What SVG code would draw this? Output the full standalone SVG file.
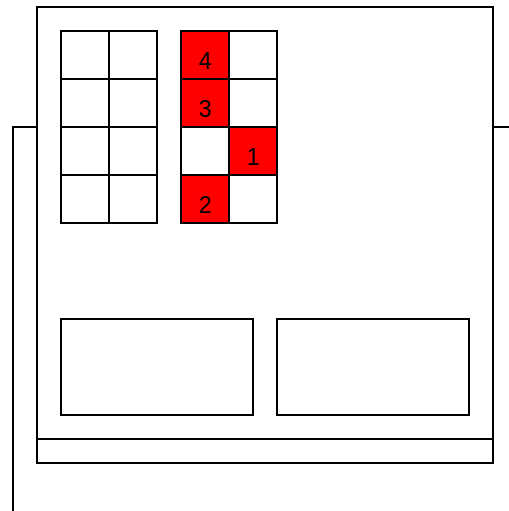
<svg xmlns="http://www.w3.org/2000/svg" width="509" height="511" viewBox="0 0 509 511">
<style>
.s{fill:none;stroke:#000;stroke-width:2}
.w{fill:#fff;stroke:#000;stroke-width:2}
.r{fill:#ff0000;stroke:#000;stroke-width:2}
.t{font-family:"Liberation Sans",Arial,sans-serif;font-size:23px;text-anchor:middle;fill:#000}
</style>
<rect width="509" height="511" fill="#fff"/>
<g id="connectors">
<path class="s" d="M37,127 H13 V511"/>
<path class="s" d="M493,127 H509"/>
</g>
<g id="frame">
<rect class="s" x="37" y="7" width="456" height="456"/>
<line class="s" x1="37" y1="439" x2="493" y2="439"/>
</g>
<g id="grid-left">
<rect class="w" x="61" y="31" width="48" height="48"/>
<rect class="w" x="109" y="31" width="48" height="48"/>
<rect class="w" x="61" y="79" width="48" height="48"/>
<rect class="w" x="109" y="79" width="48" height="48"/>
<rect class="w" x="61" y="127" width="48" height="48"/>
<rect class="w" x="109" y="127" width="48" height="48"/>
<rect class="w" x="61" y="175" width="48" height="48"/>
<rect class="w" x="109" y="175" width="48" height="48"/>
</g>
<g id="grid-right">
<rect class="r" x="181" y="31" width="48" height="48"/>
<rect class="w" x="229" y="31" width="48" height="48"/>
<rect class="r" x="181" y="79" width="48" height="48"/>
<rect class="w" x="229" y="79" width="48" height="48"/>
<rect class="w" x="181" y="127" width="48" height="48"/>
<rect class="r" x="229" y="127" width="48" height="48"/>
<rect class="r" x="181" y="175" width="48" height="48"/>
<rect class="w" x="229" y="175" width="48" height="48"/>
<text class="t" x="205" y="69">4</text>
<text class="t" x="205" y="117">3</text>
<text class="t" x="253" y="165">1</text>
<text class="t" x="205" y="213">2</text>
</g>
<g id="box-left"><rect class="w" x="61" y="319" width="192" height="96"/></g>
<g id="box-right"><rect class="w" x="277" y="319" width="192" height="96"/></g>
</svg>
